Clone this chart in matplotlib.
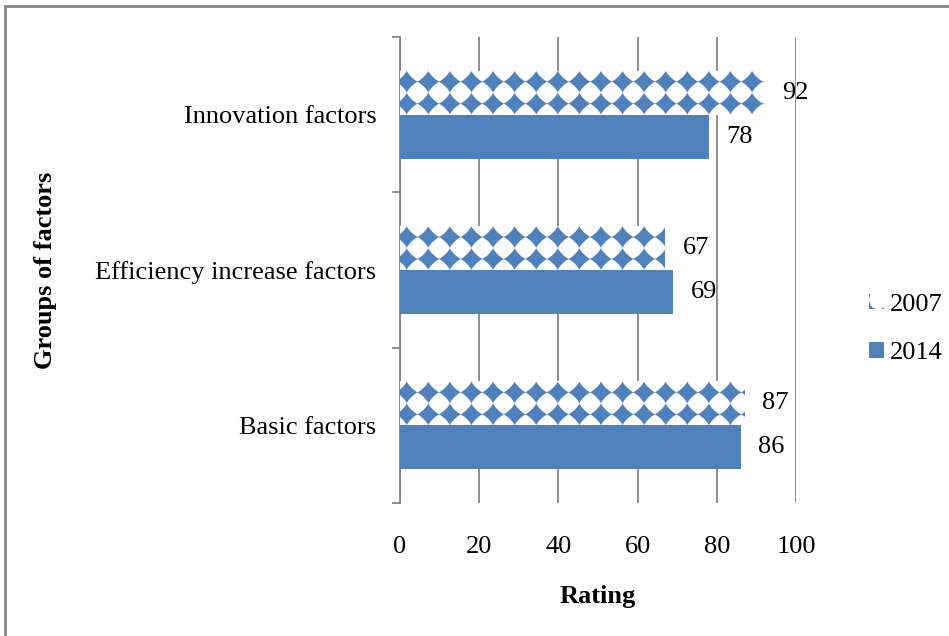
import matplotlib
matplotlib.use("Agg")
import matplotlib.pyplot as plt
from matplotlib.patches import Rectangle, Ellipse, Patch, Polygon
from matplotlib.collections import PatchCollection
from matplotlib.legend_handler import HandlerPatch
import numpy as np

categories = ["Basic factors", "Efficiency increase factors", "Innovation factors"]
values_2007 = [87, 67, 92]
values_2014 = [86, 69, 78]
series_names = ["2007", "2014"]
xticks = [0, 20, 40, 60, 80, 100]

BLUE = "#4F81BD"
GRID = "#868686"
FS = 19
plt.rcParams['font.family'] = ['Liberation Serif', 'DejaVu Serif']

fig = plt.figure(figsize=(9.49, 6.36), dpi=100)
ax = fig.add_axes([400/949, 1-503/636, (796-400)/949, (503-37)/636])

y = np.arange(len(categories))
h = 0.283

bars14 = ax.barh(y - h/2, values_2014, height=h, color=BLUE, zorder=3)
bars07 = ax.barh(y + h/2, values_2007, height=h, color="white", zorder=3)

# unit shape: 4-point star with slightly concave sides
t = np.linspace(0, 2*np.pi, 73)
p = 0.8
ux = np.sign(np.cos(t)) * np.abs(np.cos(t)) ** (2/p)
uy = np.sign(np.sin(t)) * np.abs(np.sin(t)) ** (2/p)

dx = 5.45
for bar in bars07:
    x0, y0 = bar.get_x(), bar.get_y()
    w, bh = bar.get_width(), bar.get_height()
    dy = bh / 2
    shapes = []
    cx = 1.7
    while cx - dx < x0 + w:
        for r in range(2):
            cy = y0 + dy/2 + r*dy
            pts = np.column_stack([cx + 0.52*dx*ux, cy + 0.50*dy*uy])
            shapes.append(Polygon(pts, closed=True))
        cx += dx
    pc = PatchCollection(shapes, facecolor=BLUE, edgecolor='none', zorder=4)
    ax.add_collection(pc)
    pc.set_clip_path(bar)

for bars, vals in ((bars07, values_2007), (bars14, values_2014)):
    for b, v in zip(bars, vals):
        ax.text(v + 4.4, b.get_y() + b.get_height()/2, f"{v}", va='center', ha='left',
                fontsize=FS, zorder=5)

ax.set_xlim(0, 100)
ax.set_ylim(-0.5, len(categories) - 0.5)
ax.set_xticks(xticks)
ax.set_xticklabels([str(t) for t in xticks], fontsize=FS)
ax.tick_params(axis='x', length=0, pad=24)
ax.set_yticks(y)
ax.set_yticklabels(categories, fontsize=FS)
ax.set_yticks(np.arange(-0.5, len(categories), 1.0), minor=True)
ax.tick_params(axis='y', which='major', length=0, pad=17)
ax.tick_params(axis='y', which='minor', length=6, color=GRID, width=1.3, direction='out')
ax.xaxis.grid(True, color=GRID, linewidth=1.3, zorder=0)
ax.set_axisbelow(True)
for s in ['top', 'right', 'bottom']:
    ax.spines[s].set_visible(False)
ax.spines['left'].set_color(GRID)
ax.spines['left'].set_linewidth(1.3)

ax.set_xlabel("Rating", fontsize=FS, fontweight='bold', labelpad=19)
fig.text(46/949, 1-270/636, "Groups of factors", rotation=90, fontsize=FS,
         fontweight='bold', ha='center', va='center')


class PatternHandler(HandlerPatch):
    def create_artists(self, legend, orig_handle, xdescent, ydescent, width, height,
                       fontsize, trans):
        rect = Rectangle((-xdescent, -ydescent), width, height, facecolor=BLUE,
                         edgecolor='none', transform=trans)
        circ = Ellipse((-xdescent + width*0.62, -ydescent + height*0.62),
                       width*1.25, height*1.25, facecolor='white', edgecolor='none',
                       transform=trans)
        circ.set_clip_path(rect)
        return [rect, circ]


h07 = Patch(facecolor=BLUE)
h14 = Patch(facecolor=BLUE, edgecolor='none')
fig.legend([h07, h14], series_names, loc='center left', bbox_to_anchor=(856/949, 1-329/636),
           frameon=False, fontsize=FS, handlelength=0.55, handleheight=0.55,
           handletextpad=0.25, labelspacing=1.0, borderpad=0,
           handler_map={h07: PatternHandler()})

fig.patches.append(Rectangle((5/949, -0.1), 1.1, 1 - 6/636 + 0.1, transform=fig.transFigure,
                             fill=False, edgecolor=GRID, linewidth=2, figure=fig))

fig.savefig("out.png", dpi=100)
